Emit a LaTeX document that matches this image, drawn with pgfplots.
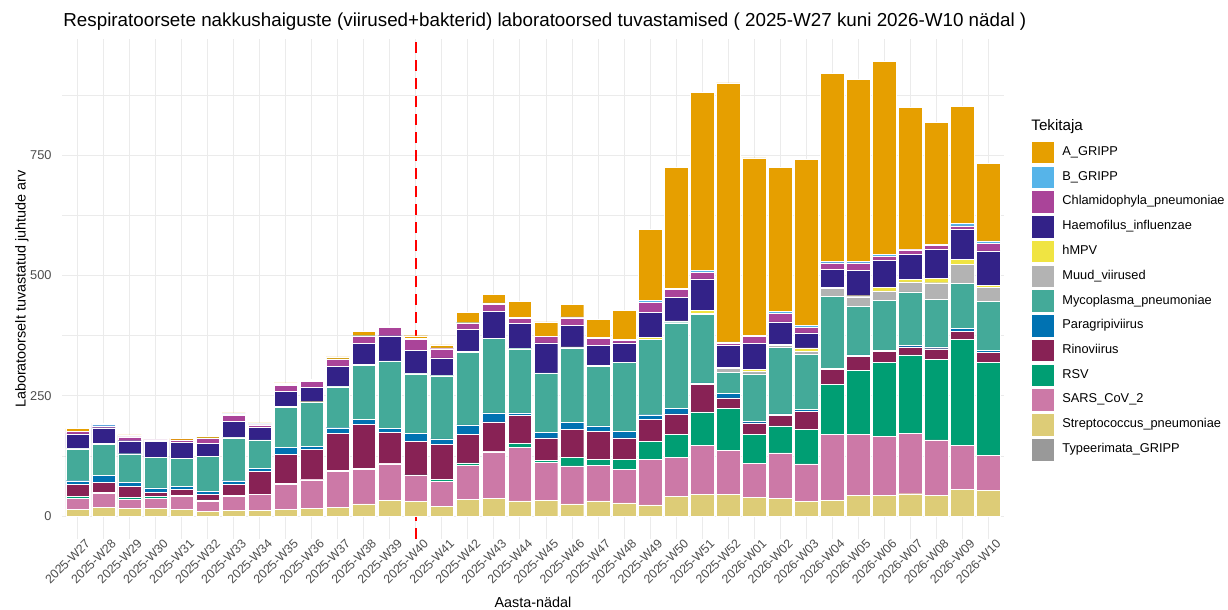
\documentclass[border=0pt]{standalone}
\usepackage{pgfplots}
\pgfplotsset{compat=1.18}
\usepackage{pgfplotstable}
\usepackage{fontspec}
\setmainfont{Liberation Sans}
\definecolor{cA}{HTML}{E69F00}
\definecolor{cB}{HTML}{56B4E9}
\definecolor{cC}{HTML}{AA4499}
\definecolor{cHa}{HTML}{332288}
\definecolor{ch}{HTML}{F0E442}
\definecolor{cMu}{HTML}{B3B3B3}
\definecolor{cM}{HTML}{44AA99}
\definecolor{cP}{HTML}{0072B2}
\definecolor{cRi}{HTML}{882255}
\definecolor{cR}{HTML}{009E73}
\definecolor{cSA}{HTML}{CC79A7}
\definecolor{cS}{HTML}{DDCC77}
\definecolor{cT}{HTML}{999999}
\definecolor{gridc}{HTML}{EBEBEB}
\definecolor{txtg}{HTML}{4D4D4D}
\pgfplotstableread{
i T S SA R Ri P M Mu h Ha C B A
0 0 15 22 4 26 7 66 0 1 30 5 1 5
1 0 19 29 2 21 14 65 0 1 33 4 3 2
2 0 16 19 4 23 9 59 0 0 27 8 1 3
3 0 16 21 4 9 9 64 0 0 32 4 0 1
4 0 15 26 2 13 6 59 0 0 32 6 0 3
5 0 10 21 3 12 6 73 0 0 27 10 1 3
6 0 12 30 2 23 7 89 0 1 33 12 4 2
7 0 13 32 1 48 6 59 0 0 26 5 2 2
8 0 15 51 2 61 14 84 0 2 31 12 2 3
9 0 17 59 1 62 6 91 0 2 30 13 2 2
10 0 19 75 2 76 12 85 0 1 42 14 1 4
11 0 26 71 2 92 10 113 0 1 44 15 1 9
12 0 33 76 1 64 8 141 0 0 52 18 1 2
13 0 31 54 1 70 17 123 0 1 47 24 2 5
14 0 21 52 4 73 11 131 0 1 36 19 2 6
15 0 35 71 5 59 20 150 0 2 46 12 2 21
16 0 37 97 1 61 19 154 0 1 55 15 3 18
17 0 32 111 8 59 5 133 0 1 51 11 2 34
18 0 33 79 4 47 12 123 0 0 62 13 1 30
19 0 26 79 18 57 15 155 0 2 44 16 2 26
20 0 32 74 12 59 11 124 0 1 42 14 2 38
21 0 28 70 20 45 14 142 0 1 40 6 1 60
22 0 24 94 37 47 9 157 0 3 52 22 4 147
23 0 41 82 47 43 11 178 1 3 48 17 3 250
24 0 46 101 70 57 3 142 2 6 66 13 5 369
25 0 46 91 87 22 9 44 8 3 45 4 3 538
26 0 39 71 60 24 3 99 5 4 54 14 3 368
27 0 37 95 56 22 3 138 4 2 47 17 4 299
28 0 31 78 71 38 4 115 6 7 31 12 3 345
29 0 33 137 104 31 2 150 16 2 38 13 4 389
30 0 43 127 133 29 3 101 20 2 53 15 3 378
31 0 43 123 153 23 3 104 19 7 57 8 4 400
32 0 47 125 163 17 3 111 21 5 52 9 2 294
33 0 43 116 167 22 4 99 34 9 60 9 2 253
34 0 56 92 219 17 7 93 39 11 62 7 5 243
35 0 54 72 193 21 5 102 28 5 71 16 5 161
}\data
\pgfplotsset{legkey/.style={legend image code/.code={\path[##1] (0pt,-5.65pt) rectangle (11.3pt,5.65pt);}}}
\begin{document}
\begin{tikzpicture}
\path[use as bounding box] (-31pt,-35.5pt) rectangle (583pt,269.5pt);
\begin{axis}[
  at={(0,0)}, anchor=south west,
  width=471pt, height=250pt, scale only axis,
  ybar stacked, bar width=0.9,
  xmin=-0.6, xmax=35.6, ymin=-47, ymax=991,
  xtick={0,...,35},
  xticklabels={2025-W27,2025-W28,2025-W29,2025-W30,2025-W31,2025-W32,2025-W33,2025-W34,2025-W35,2025-W36,2025-W37,2025-W38,2025-W39,2025-W40,2025-W41,2025-W42,2025-W43,2025-W44,2025-W45,2025-W46,2025-W47,2025-W48,2025-W49,2025-W50,2025-W51,2025-W52,2026-W01,2026-W02,2026-W03,2026-W04,2026-W05,2026-W06,2026-W07,2026-W08,2026-W09,2026-W10},
  ytick={0,250,500,750},
  minor ytick={125,375,625,875},
  xmajorgrids, ymajorgrids, yminorgrids,
  grid style={color=gridc, line width=0.5pt},
  minor grid style={color=gridc, line width=0.25pt},
  axis line style={draw=none},
  major tick length=0pt, minor tick length=0pt,
  tick style={draw=none},
  /pgf/number format/assume math mode=true,
  yticklabel style={font=\fontsize{6.4}{7}\selectfont, text=txtg, anchor=east, inner sep=0pt, xshift=-5pt},
  xticklabel style={font=\fontsize{6.2}{7}\selectfont, text=txtg, rotate=45, anchor=north east, inner sep=0pt, yshift=-2pt, xshift=3pt},
  every axis x label/.style={at={(axis description cs:0.5,-0.126)}, anchor=center, font=\fontsize{7.2}{8}\selectfont},
  every axis y label/.style={at={(axis description cs:-0.0425,0.5)}, rotate=90, anchor=center, font=\fontsize{7.2}{8}\selectfont},
  xlabel={Aasta-nädal},
  ylabel={Laboratoorselt tuvastatud juhtude arv},
  reverse legend,
  legend cell align=left,
  legend style={at={(1,1)}, anchor=north west, xshift=13.5pt, yshift=-50.9pt, draw=none, fill=none, inner sep=0pt, outer sep=0pt, row sep=0.88pt, font=\fontsize{6.4}{7}\selectfont, nodes={inner sep=1pt}, /tikz/every odd column/.append style={column sep=3.2pt}},
  legkey,
]
\addplot[fill=cT, draw=white, line width=0.2pt, legkey] table[x=i,y=T]{\data};
\addlegendentry{Typeerimata\_GRIPP}
\addplot[fill=cS, draw=white, line width=0.2pt, legkey] table[x=i,y=S]{\data};
\addlegendentry{Streptococcus\_pneumoniae}
\addplot[fill=cSA, draw=white, line width=0.2pt, legkey] table[x=i,y=SA]{\data};
\addlegendentry{SARS\_CoV\_2}
\addplot[fill=cR, draw=white, line width=0.2pt, legkey] table[x=i,y=R]{\data};
\addlegendentry{RSV}
\addplot[fill=cRi, draw=white, line width=0.2pt, legkey] table[x=i,y=Ri]{\data};
\addlegendentry{Rinoviirus}
\addplot[fill=cP, draw=white, line width=0.2pt, legkey] table[x=i,y=P]{\data};
\addlegendentry{Paragripiviirus}
\addplot[fill=cM, draw=white, line width=0.2pt, legkey] table[x=i,y=M]{\data};
\addlegendentry{Mycoplasma\_pneumoniae}
\addplot[fill=cMu, draw=white, line width=0.2pt, legkey] table[x=i,y=Mu]{\data};
\addlegendentry{Muud\_viirused}
\addplot[fill=ch, draw=white, line width=0.2pt, legkey] table[x=i,y=h]{\data};
\addlegendentry{hMPV}
\addplot[fill=cHa, draw=white, line width=0.2pt, legkey] table[x=i,y=Ha]{\data};
\addlegendentry{Haemofilus\_influenzae}
\addplot[fill=cC, draw=white, line width=0.2pt, legkey] table[x=i,y=C]{\data};
\addlegendentry{Chlamidophyla\_pneumoniae}
\addplot[fill=cB, draw=white, line width=0.2pt, legkey] table[x=i,y=B]{\data};
\addlegendentry{B\_GRIPP}
\addplot[fill=cA, draw=white, line width=0.2pt, legkey] table[x=i,y=A]{\data};
\addlegendentry{A\_GRIPP}
\draw[red, line width=1.3pt, dash pattern=on 5.5pt off 3.5pt] (axis cs:13,-47) -- (axis cs:13,991);
\end{axis}
\node[anchor=base west, font=\fontsize{9.4}{11}\selectfont, inner sep=0pt] at (0.5pt,256pt) {Respiratoorsete nakkushaiguste (viirused+bakterid) laboratoorsed tuvastamised ( 2025-W27 kuni 2026-W10 nädal )};
\node[anchor=west, font=\fontsize{7.6}{9}\selectfont, inner sep=0pt] at (484.5pt,206pt) {Tekitaja};
\end{tikzpicture}
\end{document}
